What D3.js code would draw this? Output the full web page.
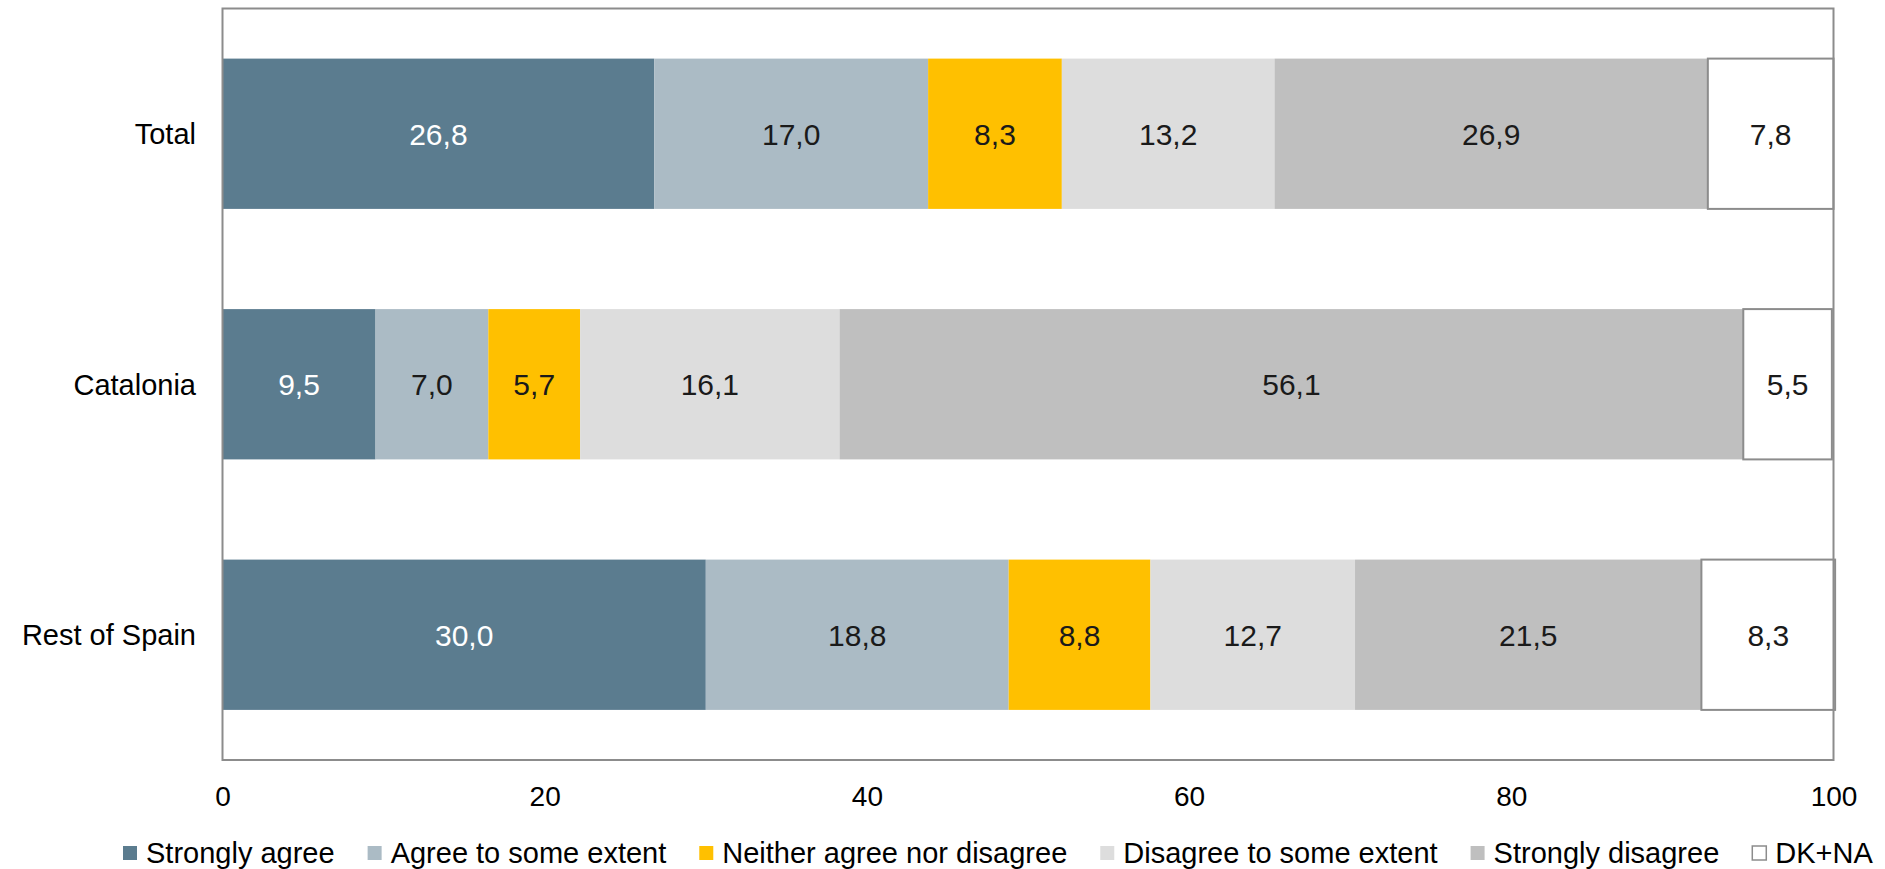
<!DOCTYPE html>
<html>
<head>
<meta charset="utf-8">
<script src="https://cdn.jsdelivr.net/npm/d3@7"></script>
<style>
    html, body { margin: 0; padding: 0; background: #fff; }
    svg text { font-family: "Liberation Sans", Arial, sans-serif; }
</style>
</head>
<body>
<div id="chart"></div>
<script>
// categories (top to bottom) and answer options
var categories = ['Total', 'Catalonia', 'Rest of Spain'];
var answers = ['Strongly agree', 'Agree to some extent', 'Neither agree nor disagree',
    'Disagree to some extent', 'Strongly disagree', 'DK+NA'];

// one array per answer, values in category order
var stronglyAgree = [26.8, 9.5, 30.0];
var agreeSome = [17.0, 7.0, 18.8];
var neither = [8.3, 5.7, 8.8];
var disagreeSome = [13.2, 16.1, 12.7];
var stronglyDisagree = [26.9, 56.1, 21.5];
var dkna = [7.8, 5.5, 8.3];

var xTicks = [0, 20, 40, 60, 80, 100];

var colors = ['#5b7c8f', '#abbbc5', '#ffc000', '#dddddd', '#bfbfbf', '#ffffff'];
var labelColors = ['#ffffff', '#1a1a1a', '#1a1a1a', '#1a1a1a', '#1a1a1a', '#1a1a1a'];

var width = 1885,
    height = 869;
var margin = { left: 222.5, right: 51.5, top: 8.5, bottom: 109 };

var svg = d3.select('#chart').append('svg')
    .attr('width', width)
    .attr('height', height);

// build rows for the stack
var series = [stronglyAgree, agreeSome, neither, disagreeSome, stronglyDisagree, dkna];
var rows = categories.map(function(c, i) {
    var r = { cat: c };
    answers.forEach(function(a, j) { r[a] = series[j][i]; });
    return r;
});
var stacked = d3.stack().keys(answers)(rows);

var x = d3.scaleLinear()
    .domain([0, 100])
    .range([margin.left, width - margin.right]);
var y = d3.scaleBand()
    .domain(categories)
    .range([margin.top, height - margin.bottom])
    .paddingInner(0.4)
    .paddingOuter(0.2);

// bars
var layer = svg.selectAll('g.layer')
    .data(stacked)
    .enter().append('g')
    .attr('class', 'layer');

layer.selectAll('rect')
    .data(function(d) { return d.map(function(p) { p.key = d.key; p.idx = d.index; return p; }); })
    .enter().append('rect')
    .attr('x', function(d) { return x(d[0]); })
    .attr('y', function(d) { return y(d.data.cat); })
    .attr('width', function(d) { return x(d[1]) - x(d[0]); })
    .attr('height', y.bandwidth())
    .style('fill', function(d) { return colors[d.idx]; })
    .style('stroke', function(d) { return d.idx === 5 ? '#8c8c8c' : 'none'; })
    .style('stroke-width', 2);

// value labels
layer.selectAll('text')
    .data(function(d) { return d; })
    .enter().append('text')
    .attr('x', function(d) { return (x(d[0]) + x(d[1])) / 2; })
    .attr('y', function(d) { return y(d.data.cat) + y.bandwidth() / 2; })
    .attr('dy', '0.36em')
    .attr('text-anchor', 'middle')
    .style('font-size', '30px')
    .style('fill', function(d) { return labelColors[d.idx]; })
    .text(function(d) { return d3.format('.1f')(d[1] - d[0]).replace('.', ','); });

// plot frame
svg.append('rect')
    .attr('x', x(0))
    .attr('y', margin.top)
    .attr('width', x(100) - x(0))
    .attr('height', height - margin.bottom - margin.top)
    .style('fill', 'none')
    .style('stroke', '#8c8c8c')
    .style('stroke-width', 2);

// category labels
svg.selectAll('text.cat')
    .data(categories)
    .enter().append('text')
    .attr('class', 'cat')
    .attr('x', 196)
    .attr('y', function(d) { return y(d) + y.bandwidth() / 2; })
    .attr('dy', '0.36em')
    .attr('text-anchor', 'end')
    .style('font-size', '29px')
    .style('fill', '#000')
    .text(function(d) { return d; });

// x axis, only the labels
var xAxis = svg.append('g')
    .attr('transform', 'translate(0,' + (height - margin.bottom) + ')')
    .call(d3.axisBottom(x).tickValues(xTicks).tickSize(0).tickPadding(46));
xAxis.select('.domain').remove();
xAxis.selectAll('text')
    .attr('dy', '0')
    .style('font-family', '"Liberation Sans", Arial, sans-serif')
    .style('font-size', '28px')
    .style('fill', '#000');

// legend
var legend = svg.append('g').attr('transform', 'translate(123,853)');
var lx = 0;
answers.forEach(function(a, i) {
    var item = legend.append('g').attr('transform', 'translate(' + lx + ',0)');
    item.append('rect')
        .attr('x', 0)
        .attr('y', -7)
        .attr('width', 14)
        .attr('height', 14)
        .style('fill', colors[i])
        .style('stroke', i === 5 ? '#8c8c8c' : 'none')
        .style('stroke-width', 1.5);
    var t = item.append('text')
        .attr('x', 23)
        .attr('dy', '0.36em')
        .style('font-size', '29px')
        .style('fill', '#000')
        .text(a);
    lx += 23 + t.node().getComputedTextLength() + 33;
});
</script>
</body>
</html>
